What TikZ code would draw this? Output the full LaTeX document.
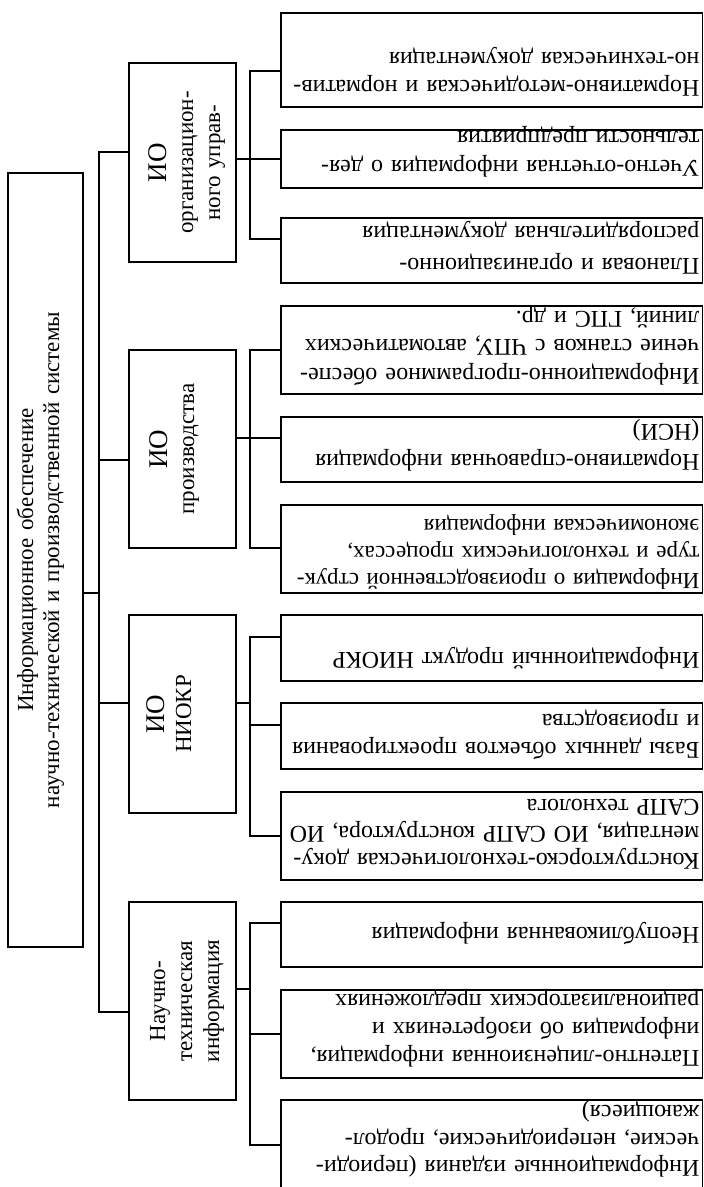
\documentclass[tikz,border=0pt]{standalone}
\usepackage{fontspec}
\setmainfont{Liberation Serif}
\begin{document}
\begin{tikzpicture}[x=1pt,y=-1pt,line width=1.3pt,
  box/.style={draw,line width=1.4pt,inner sep=0pt},
  leafbox/.style={box,minimum width=421.5pt},
  midbox/.style={box,minimum width=107pt,minimum height=198pt},
  leaftext/.style={rotate=180,anchor=north west,inner sep=0pt,text width=414pt,
    align=left,font=\fontsize{24}{#1}\selectfont},
  leaftext/.default=28,
  midtext/.style={rotate=90,anchor=base,inner sep=0pt,text width=190pt,
    align=center,font=\fontsize{23}{27}\selectfont}]
\useasboundingbox (0,0) rectangle (704,1187);
\clip (0,0) rectangle (704,1187);

% root
\node[box,minimum width=75pt,minimum height=774pt] (root) at (45.5,560) {};
\node[rotate=90,anchor=base,inner sep=0pt,text width=560pt,align=center,
  font=\fontsize{23}{26}\selectfont] (rootlbl) at (33,560)
  {Информационное обеспечение\\научно-технической и производственной системы};

% second level
\node[midbox,minimum height=199pt] (io1) at (182.5,162.5) {};
\node[midbox] (io2) at (182.5,449) {};
\node[midbox] (io3) at (182.5,714) {};
\node[midbox] (io4) at (182.5,1001) {};

\node[midtext] (io1lbl) at (166,162.5)
  {{\fontsize{27}{27}\selectfont ИО}\\организацион-\\ного управ-};
\node[midtext] (io2lbl) at (167,449)
  {{\fontsize{27}{27}\selectfont ИО}\\производства};
\node[midtext] (io3lbl) at (164,714)
  {{\fontsize{27}{27}\selectfont ИО}\\НИОКР};
\node[midtext] (io4lbl) at (165,1001)
  {Научно-\\техническая\\информация};

% leaves
\node[leafbox,minimum height=94pt] (a1) at (491.75,60) {};
\node[leafbox,minimum height=58pt] (a2) at (491.75,159) {};
\node[leafbox,minimum height=65pt] (a3) at (491.75,250.5) {};
\node[leafbox,minimum height=88pt] (b1) at (491.75,350) {};
\node[leafbox,minimum height=65pt] (b2) at (491.75,449.5) {};
\node[leafbox,minimum height=88pt] (b3) at (491.75,549) {};
\node[leafbox,minimum height=66pt] (c1) at (491.75,648) {};
\node[leafbox,minimum height=66pt] (c2) at (491.75,736) {};
\node[leafbox,minimum height=88pt] (c3) at (491.75,836) {};
\node[leafbox,minimum height=65pt] (d1) at (491.75,934.5) {};
\node[leafbox,minimum height=88pt] (d2) at (491.75,1034) {};
\node[leafbox,minimum height=100pt] (d3) at (491.75,1150) {};

\node[leaftext] (a1t) at (700,97)
  {Нормативно-методическая и норматив-\\но-техническая документация};
\node[leaftext=29] (a2t) at (700,178)
  {Учетно-отчетная информация о дея-\\тельности предприятия};
\node[leaftext=32] (a3t) at (700,275)
  {Плановая и организационно-\\распорядительная документация};
\node[leaftext=28.5] (b1t) at (700,386)
  {Информационно-программное обеспе-\\чение станков с ЧПУ, автоматических\\линий, ГПС и др.};
\node[leaftext=30] (b2t) at (700,472)
  {Нормативно-справочная информация\\(НСИ)};
\node[leaftext=27,font=\fontsize{23}{27}\selectfont] (b3t) at (700,590)
  {Информация о производственной струк-\\туре и технологических процессах,\\экономическая информация};
\node[leaftext] (c1t) at (700,670)
  {Информационный продукт НИОКР};
\node[leaftext] (c2t) at (700,760)
  {Базы данных объектов проектирования\\и производства};
\node[leaftext=27] (c3t) at (700,870)
  {Конструкторско-технологическая доку-\\ментация, ИО САПР конструктора, ИО\\САПР технолога};
\node[leaftext] (d1t) at (700,945)
  {Неопубликованная информация};
\node[leaftext] (d2t) at (700,1068)
  {Патентно-лицензионная информация,\\информация об изобретениях и\\рационализаторских предложениях};
\node[leaftext=27.5] (d3t) at (700,1178)
  {Информационные издания (периоди-\\ческие, непериодические, продол-\\жающиеся)};

% main trunk
\coordinate (tA) at (99,152);
\coordinate (tR) at (99,593);
\coordinate (tB) at (99,460);
\coordinate (tC) at (99,703);
\coordinate (tD) at (99,1012);
\draw (io1.west|-tA) -- (tA) -- (tD) -- (io4.west|-tD);
\draw (root.east|-tR) -- (tR);
\draw (tB) -- (io2.west|-tB);
\draw (tC) -- (io3.west|-tC);

% branch to the first group
\coordinate (sA1) at (250,71);
\coordinate (sA2) at (250,159);
\coordinate (sA3) at (250,239);
\draw (a1.west|-sA1) -- (sA1) -- (sA3) -- (a3.west|-sA3);
\draw (io1.east|-sA2) -- (a2.west|-sA2);

% branch to the second group
\coordinate (sB1) at (250,350);
\coordinate (sB2) at (250,438);
\coordinate (sB3) at (250,548);
\draw (b1.west|-sB1) -- (sB1) -- (sB3) -- (b3.west|-sB3);
\draw (io2.east|-sB2) -- (b2.west|-sB2);

% branch to the third group
\coordinate (sC1) at (250,637);
\coordinate (sCm) at (250,703);
\coordinate (sC2) at (250,725);
\coordinate (sC3) at (250,836);
\draw (c1.west|-sC1) -- (sC1) -- (sC3) -- (c3.west|-sC3);
\draw (io3.east|-sCm) -- (sCm);
\draw (sC2) -- (c2.west|-sC2);

% branch to the fourth group
\coordinate (sD1) at (250,923);
\coordinate (sDm) at (250,989);
\coordinate (sD2) at (250,1034);
\coordinate (sD3) at (250,1145);
\draw (d1.west|-sD1) -- (sD1) -- (sD3) -- (d3.west|-sD3);
\draw (io4.east|-sDm) -- (sDm);
\draw (sD2) -- (d2.west|-sD2);
\end{tikzpicture}
\end{document}
